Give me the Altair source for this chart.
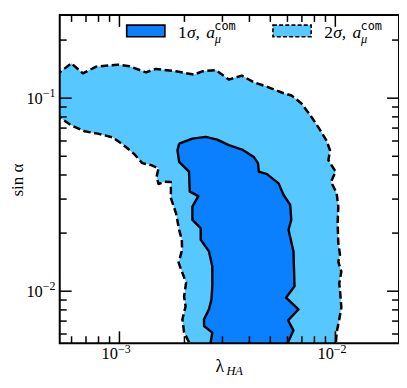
import altair as alt
import pandas as pd

# ---------------- data ----------------
X_2SIG = [5.0e-4, 5.29e-4, 5.99e-4, 6.77e-4, 7.81e-4, 9.82e-4, 1.112e-3, 1.327e-3, 1.476e-3, 1.825e-3,
          2.216e-3, 2.420e-3, 2.80e-3, 3.21e-3, 3.69e-3, 4.19e-3, 4.81e-3, 5.64e-3, 6.27e-3, 6.97e-3,
          7.67e-3, 8.35e-3, 9.09e-3, 9.45e-3, 9.29e-3, 1.003e-2, 9.55e-3, 1.014e-2, 1.032e-2, 1.025e-2,
          1.032e-2, 1.051e-2, 1.032e-2, 1.066e-2, 1.043e-2, 1.054e-2, 1.066e-2, 1.043e-2, 1.014e-2, 1.003e-2,
          2.10e-3, 2.10e-3, 1.993e-3, 1.957e-3, 2.025e-3, 1.993e-3, 2.036e-3, 1.931e-3, 1.880e-3, 1.951e-3,
          1.945e-3, 1.890e-3, 1.831e-3, 1.731e-3, 1.731e-3, 1.612e-3, 1.517e-3, 1.486e-3, 1.517e-3, 1.404e-3,
          1.276e-3, 1.172e-3, 1.089e-3, 1.032e-3, 9.28e-4, 7.94e-4, 6.90e-4, 5.99e-4, 5.29e-4, 5.0e-4,
          5.0e-4]
Y_2SIG = [0.1357, 0.1361, 0.1515, 0.1345, 0.1457, 0.1492, 0.1462, 0.1361, 0.1418, 0.1378,
          0.1325, 0.1378, 0.1398, 0.1248, 0.1309, 0.1209, 0.1149, 0.1070, 0.1032, 0.0939,
          0.0814, 0.0706, 0.0605, 0.0537, 0.0477, 0.0416, 0.0369, 0.0322, 0.0274, 0.0225,
          0.0178, 0.01546, 0.01422, 0.01264, 0.01096, 0.00973, 0.00824, 0.00715, 0.00612, 0.00513,
          0.00513, 0.00544, 0.00612, 0.00715, 0.00834, 0.00939, 0.01108, 0.01294, 0.01405, 0.0164,
          0.01847, 0.0208, 0.0252, 0.0304, 0.0368, 0.0369, 0.0359, 0.0392, 0.0433, 0.0450,
          0.0461, 0.0513, 0.0550, 0.0577, 0.0627, 0.0655, 0.0674, 0.0723, 0.0795, 0.0814,
          0.1357]

X_1SIG = [1.890e-3, 2.177e-3, 2.509e-3, 2.838e-3, 3.21e-3, 3.70e-3, 4.19e-3, 4.385e-3, 4.42e-3, 4.825e-3,
          5.46e-3, 5.76e-3, 6.18e-3, 6.25e-3, 6.07e-3, 6.40e-3, 6.47e-3, 5.91e-3, 6.75e-3, 6.04e-3,
          6.40e-3, 6.04e-3, 6.04e-3, 2.646e-3, 2.646e-3, 2.692e-3, 2.465e-3, 2.465e-3, 2.598e-3, 2.668e-3,
          2.692e-3, 2.692e-3, 2.598e-3, 2.379e-3, 2.379e-3, 2.177e-3, 2.177e-3, 2.320e-3, 2.117e-3, 2.10e-3,
          1.890e-3, 1.857e-3, 1.890e-3]
Y_1SIG = [0.0582, 0.0617, 0.0630, 0.0610, 0.0571, 0.0542, 0.0496, 0.0459, 0.0416, 0.0404,
          0.0362, 0.0315, 0.0280, 0.0234, 0.0208, 0.01607, 0.01061, 0.00925, 0.00805, 0.00706,
          0.00627, 0.00544, 0.00513, 0.00513, 0.00544, 0.00610, 0.00660, 0.00715, 0.00805, 0.00906,
          0.01061, 0.01345, 0.01607, 0.01847, 0.0212, 0.0234, 0.0274, 0.0311, 0.0328, 0.0416,
          0.0468, 0.0537, 0.0582]

X_DOMAIN = [5.29e-4, 1.972e-2]
Y_DOMAIN = [5.375e-3, 0.27]
X_MAJOR = [1e-3, 1e-2]
X_MINOR = [6e-4, 7e-4, 8e-4, 9e-4, 2e-3, 3e-3, 4e-3, 5e-3, 6e-3, 7e-3, 8e-3, 9e-3]
Y_MAJOR = [1e-2, 1e-1]
Y_MINOR = [6e-3, 7e-3, 8e-3, 9e-3, 2e-2, 3e-2, 4e-2, 5e-2, 6e-2, 7e-2, 8e-2, 9e-2, 2e-1]
X_EXP = ["\u22123", "\u22122"]
Y_EXP = ["\u22122", "\u22121"]
LEGEND_NUM = ["1", "2"]

# ---------------- styling ----------------
W, H = 341, 330
DARK = "#0A80FF"
LIGHT = "#56C8FF"
SERIF = "Liberation Serif"
MONO = "DejaVu Sans Mono"

xs = alt.Scale(type="log", domain=X_DOMAIN, nice=False)
ys = alt.Scale(type="log", domain=Y_DOMAIN, nice=False)

df2 = pd.DataFrame({"x": X_2SIG, "y": Y_2SIG, "i": range(len(X_2SIG))})
df1 = pd.DataFrame({"x": X_1SIG, "y": Y_1SIG, "i": range(len(X_1SIG))})
one = pd.DataFrame({"d": [0]})

poly2 = alt.Chart(df2).mark_line(fill=LIGHT, stroke="black", strokeWidth=2.5, strokeDash=[7.5, 3.5],
                                 clip=True, strokeJoin="round").encode(
    x=alt.X("x:Q", scale=xs, axis=None),
    y=alt.Y("y:Q", scale=ys, axis=None),
    order="i:Q")
poly1 = alt.Chart(df1).mark_line(fill=DARK, stroke="black", strokeWidth=2.4,
                                 clip=True, strokeJoin="round").encode(
    x=alt.X("x:Q", scale=xs, axis=None),
    y=alt.Y("y:Q", scale=ys, axis=None),
    order="i:Q")


def xticks(vals, length, top):
    return alt.Chart(pd.DataFrame({"v": vals})).mark_rule(color="black", strokeWidth=1.5).encode(
        x=alt.X("v:Q", scale=xs, axis=None),
        y=alt.value(0 if top else H),
        y2=alt.value(length if top else H - length))


def yticks(vals, length, right):
    return alt.Chart(pd.DataFrame({"v": vals})).mark_rule(color="black", strokeWidth=1.5).encode(
        y=alt.Y("v:Q", scale=ys, axis=None),
        x=alt.value(W if right else 0),
        x2=alt.value(W - length if right else length))


ticks = [xticks(X_MAJOR, 12, False), xticks(X_MAJOR, 12, True),
         xticks(X_MINOR, 7, False), xticks(X_MINOR, 7, True),
         yticks(Y_MAJOR, 12, False), yticks(Y_MAJOR, 12, True),
         yticks(Y_MINOR, 7, False), yticks(Y_MINOR, 7, True)]

frame = alt.Chart(one).mark_rect(fillOpacity=0, stroke="black", strokeWidth=2).encode(
    x=alt.value(0), x2=alt.value(W), y=alt.value(0), y2=alt.value(H))

# tick labels
xl = alt.Chart(pd.DataFrame({"v": X_MAJOR, "e": X_EXP}))
xlab10 = xl.mark_text(text="10", align="right", baseline="alphabetic", font=SERIF, fontSize=16.5,
                      dx=-1.5).encode(x=alt.X("v:Q", scale=xs, axis=None), y=alt.value(H + 15.5))
xlabE = xl.mark_text(align="left", baseline="alphabetic", font=SERIF, fontSize=12,
                     dx=-1.5).encode(x=alt.X("v:Q", scale=xs, axis=None), y=alt.value(H + 9.5), text="e:N")
yl = alt.Chart(pd.DataFrame({"v": Y_MAJOR, "e": Y_EXP}))
ylab10 = yl.mark_text(text="10", align="right", baseline="alphabetic", font=SERIF, fontSize=16.5,
                      dy=6).encode(y=alt.Y("v:Q", scale=ys, axis=None), x=alt.value(-17))
ylabE = yl.mark_text(align="left", baseline="alphabetic", font=SERIF, fontSize=12,
                     dy=-1).encode(y=alt.Y("v:Q", scale=ys, axis=None), x=alt.value(-17), text="e:N")

# axis titles
xt1 = alt.Chart(one).mark_text(text="\u03bb", align="center", baseline="alphabetic", font=SERIF,
                               fontSize=18).encode(x=alt.value(161), y=alt.value(359))
xt2 = alt.Chart(one).mark_text(text="HA", align="left", baseline="alphabetic", font=SERIF,
                               fontSize=12.5, fontStyle="italic").encode(x=alt.value(167.5), y=alt.value(362))
yt = alt.Chart(one).mark_text(text="sin \u03b1", align="center", baseline="alphabetic", font=SERIF,
                              fontSize=17, angle=270).encode(x=alt.value(-37), y=alt.value(166))

# legend
legend = []
for k, (x0, fill, dash) in enumerate([(67.3, DARK, None), (214.3, LIGHT, [4, 2.2])]):
    rkw = dict(fill=fill, stroke="black", strokeWidth=1.6)
    if dash:
        rkw["strokeDash"] = dash
    legend.append(alt.Chart(one).mark_rect(**rkw).encode(
        x=alt.value(x0), x2=alt.value(x0 + 38.4), y=alt.value(10.3), y2=alt.value(22)))
    tx = x0 + 51.5
    legend.append(alt.Chart(one).mark_text(text=LEGEND_NUM[k], align="left", baseline="alphabetic",
                                           font=SERIF, fontSize=17.5).encode(
        x=alt.value(tx), y=alt.value(23.5)))
    legend.append(alt.Chart(one).mark_text(text="\u03c3,", align="left", baseline="alphabetic",
                                           font=SERIF, fontSize=17.5, fontStyle="italic").encode(
        x=alt.value(tx + 9), y=alt.value(23.5)))
    legend.append(alt.Chart(one).mark_text(text="a", align="left", baseline="alphabetic",
                                           font=SERIF, fontSize=17.5, fontStyle="italic").encode(
        x=alt.value(tx + 28.5), y=alt.value(23.5)))
    legend.append(alt.Chart(one).mark_text(text="\u03bc", align="left", baseline="alphabetic",
                                           font=SERIF, fontSize=12.5, fontStyle="italic").encode(
        x=alt.value(tx + 37), y=alt.value(28.5)))
    legend.append(alt.Chart(one).mark_text(text="com", align="left", baseline="alphabetic",
                                           font=MONO, fontSize=12).encode(
        x=alt.value(tx + 36.5), y=alt.value(15.5)))

chart = alt.layer(poly2, poly1, *ticks, frame, xlab10, xlabE, ylab10, ylabE, xt1, xt2, yt, *legend).properties(
    width=W, height=H,
    padding={"left": 52, "top": 6, "right": 0, "bottom": 36},
    autosize=alt.AutoSizeParams(type="none"),
).configure_view(strokeWidth=0)

chart.save("out.html", embed_options={"renderer": "svg", "actions": False})
